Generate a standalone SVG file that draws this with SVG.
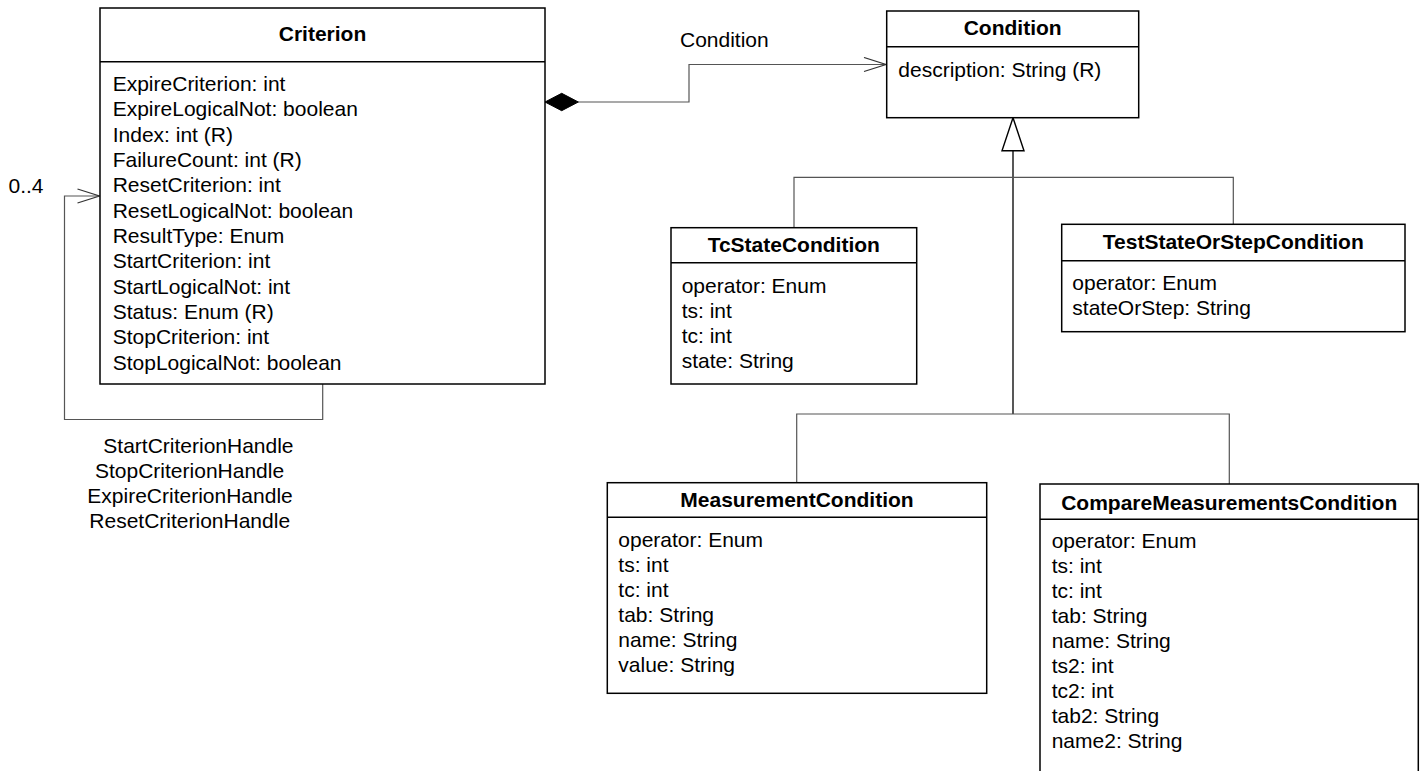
<svg xmlns="http://www.w3.org/2000/svg" width="1426" height="771" viewBox="0 0 1426 771">
  <style>
    text { font-family: "Liberation Sans", Arial, sans-serif; font-size: 21px; fill: #000; }
    .title { font-weight: bold; text-anchor: middle; }
    .box { fill: #fff; stroke: #000; stroke-width: 1.5; }
    .sep { stroke: #000; stroke-width: 1.5; }
    .link { fill: none; stroke: #555; stroke-width: 1.2; }
    .trunk { fill: none; stroke: #111; stroke-width: 1.4; }
  </style>
  <defs>
    <marker id="open-arrow" markerWidth="26" markerHeight="18" refX="23" refY="8" orient="auto" markerUnits="userSpaceOnUse">
      <path d="M1,1 L23,8 L1,15" fill="none" stroke="#333" stroke-width="1.2"/>
    </marker>
  </defs>

  <rect width="1426" height="771" fill="#fff"/>

  <!-- connectors -->
  <g id="connectors">
    <!-- composition Criterion -> Condition -->
    <polyline class="link" points="578,102 689,102 689,64.5 886,64.5" marker-end="url(#open-arrow)"/>
    <polygon points="545,102 561.7,93.3 578.3,102 561.7,110.7" fill="#000" stroke="#000" stroke-width="1"/>
    <text x="680" y="46.7">Condition</text>

    <!-- self association on Criterion -->
    <polyline class="link" points="322.7,384 322.7,419.5 64.5,419.5 64.5,196 99.5,196" marker-end="url(#open-arrow)"/>
    <text x="8.5" y="193">0..4</text>
    <text x="103.3" y="452.7">StartCriterionHandle</text>
    <text x="95" y="477.7">StopCriterionHandle</text>
    <text x="87.3" y="503">ExpireCriterionHandle</text>
    <text x="89.3" y="528.3">ResetCriterionHandle</text>

    <!-- generalization tree -->
    <line class="trunk" x1="1013" y1="150.7" x2="1013" y2="414"/>
    <polygon points="1013,117.7 1002,150.7 1024,150.7" fill="#fff" stroke="#000" stroke-width="1.4"/>
    <polyline class="link" points="794,227.7 794,177.3 1233.3,177.3 1233.3,224.3"/>
    <polyline class="link" points="796.7,482.7 796.7,414 1229.3,414 1229.3,484"/>
  </g>

  <!-- Criterion -->
  <g id="criterion">
    <rect class="box" x="100" y="8" width="445" height="376"/>
    <line class="sep" x1="100" y1="61.7" x2="545" y2="61.7"/>
    <text class="title" x="322.5" y="41.3">Criterion</text>
    <text x="112.7" y="91">ExpireCriterion: int</text>
    <text x="112.7" y="116.3">ExpireLogicalNot: boolean</text>
    <text x="112.7" y="141.7">Index: int (R)</text>
    <text x="112.7" y="167">FailureCount: int (R)</text>
    <text x="112.7" y="192.3">ResetCriterion: int</text>
    <text x="112.7" y="217.7">ResetLogicalNot: boolean</text>
    <text x="112.7" y="243">ResultType: Enum</text>
    <text x="112.7" y="268.3">StartCriterion: int</text>
    <text x="112.7" y="293.6">StartLogicalNot: int</text>
    <text x="112.7" y="319">Status: Enum (R)</text>
    <text x="112.7" y="344.3">StopCriterion: int</text>
    <text x="112.7" y="369.6">StopLogicalNot: boolean</text>
  </g>

  <!-- Condition -->
  <g id="condition">
    <rect class="box" x="886.7" y="11" width="252" height="106.7"/>
    <line class="sep" x1="886.7" y1="46.7" x2="1138.7" y2="46.7"/>
    <text class="title" x="1012.7" y="34.7">Condition</text>
    <text x="898.3" y="77.3">description: String (R)</text>
  </g>

  <!-- TcStateCondition -->
  <g id="tc-state-condition">
    <rect class="box" x="671" y="227.7" width="245.7" height="156.3"/>
    <line class="sep" x1="671" y1="262.7" x2="916.7" y2="262.7"/>
    <text class="title" x="793.8" y="251.7">TcStateCondition</text>
    <text x="681.7" y="292.5">operator: Enum</text>
    <text x="681.7" y="317.5">ts: int</text>
    <text x="681.7" y="342.5">tc: int</text>
    <text x="681.7" y="367.5">state: String</text>
  </g>

  <!-- TestStateOrStepCondition -->
  <g id="test-state-or-step-condition">
    <rect class="box" x="1061.7" y="224.3" width="343.3" height="107.4"/>
    <line class="sep" x1="1061.7" y1="260.7" x2="1405" y2="260.7"/>
    <text class="title" x="1233.3" y="249.3">TestStateOrStepCondition</text>
    <text x="1072.3" y="290">operator: Enum</text>
    <text x="1072.3" y="314.5">stateOrStep: String</text>
  </g>

  <!-- MeasurementCondition -->
  <g id="measurement-condition">
    <rect class="box" x="607.3" y="482.7" width="379.4" height="210.6"/>
    <line class="sep" x1="607.3" y1="517.3" x2="986.7" y2="517.3"/>
    <text class="title" x="797" y="506.7">MeasurementCondition</text>
    <text x="618.3" y="546.7">operator: Enum</text>
    <text x="618.3" y="571.7">ts: int</text>
    <text x="618.3" y="596.7">tc: int</text>
    <text x="618.3" y="621.7">tab: String</text>
    <text x="618.3" y="646.7">name: String</text>
    <text x="618.3" y="671.7">value: String</text>
  </g>

  <!-- CompareMeasurementsCondition (runs past the lower edge) -->
  <g id="compare-measurements-condition">
    <rect class="box" x="1040" y="484" width="378.3" height="300"/>
    <line class="sep" x1="1040" y1="519.3" x2="1418.3" y2="519.3"/>
    <text class="title" x="1229.2" y="510">CompareMeasurementsCondition</text>
    <text x="1051.7" y="548.3">operator: Enum</text>
    <text x="1051.7" y="573.3">ts: int</text>
    <text x="1051.7" y="598.3">tc: int</text>
    <text x="1051.7" y="623.3">tab: String</text>
    <text x="1051.7" y="648.3">name: String</text>
    <text x="1051.7" y="673.3">ts2: int</text>
    <text x="1051.7" y="698.3">tc2: int</text>
    <text x="1051.7" y="723.3">tab2: String</text>
    <text x="1051.7" y="748.3">name2: String</text>
  </g>
</svg>
